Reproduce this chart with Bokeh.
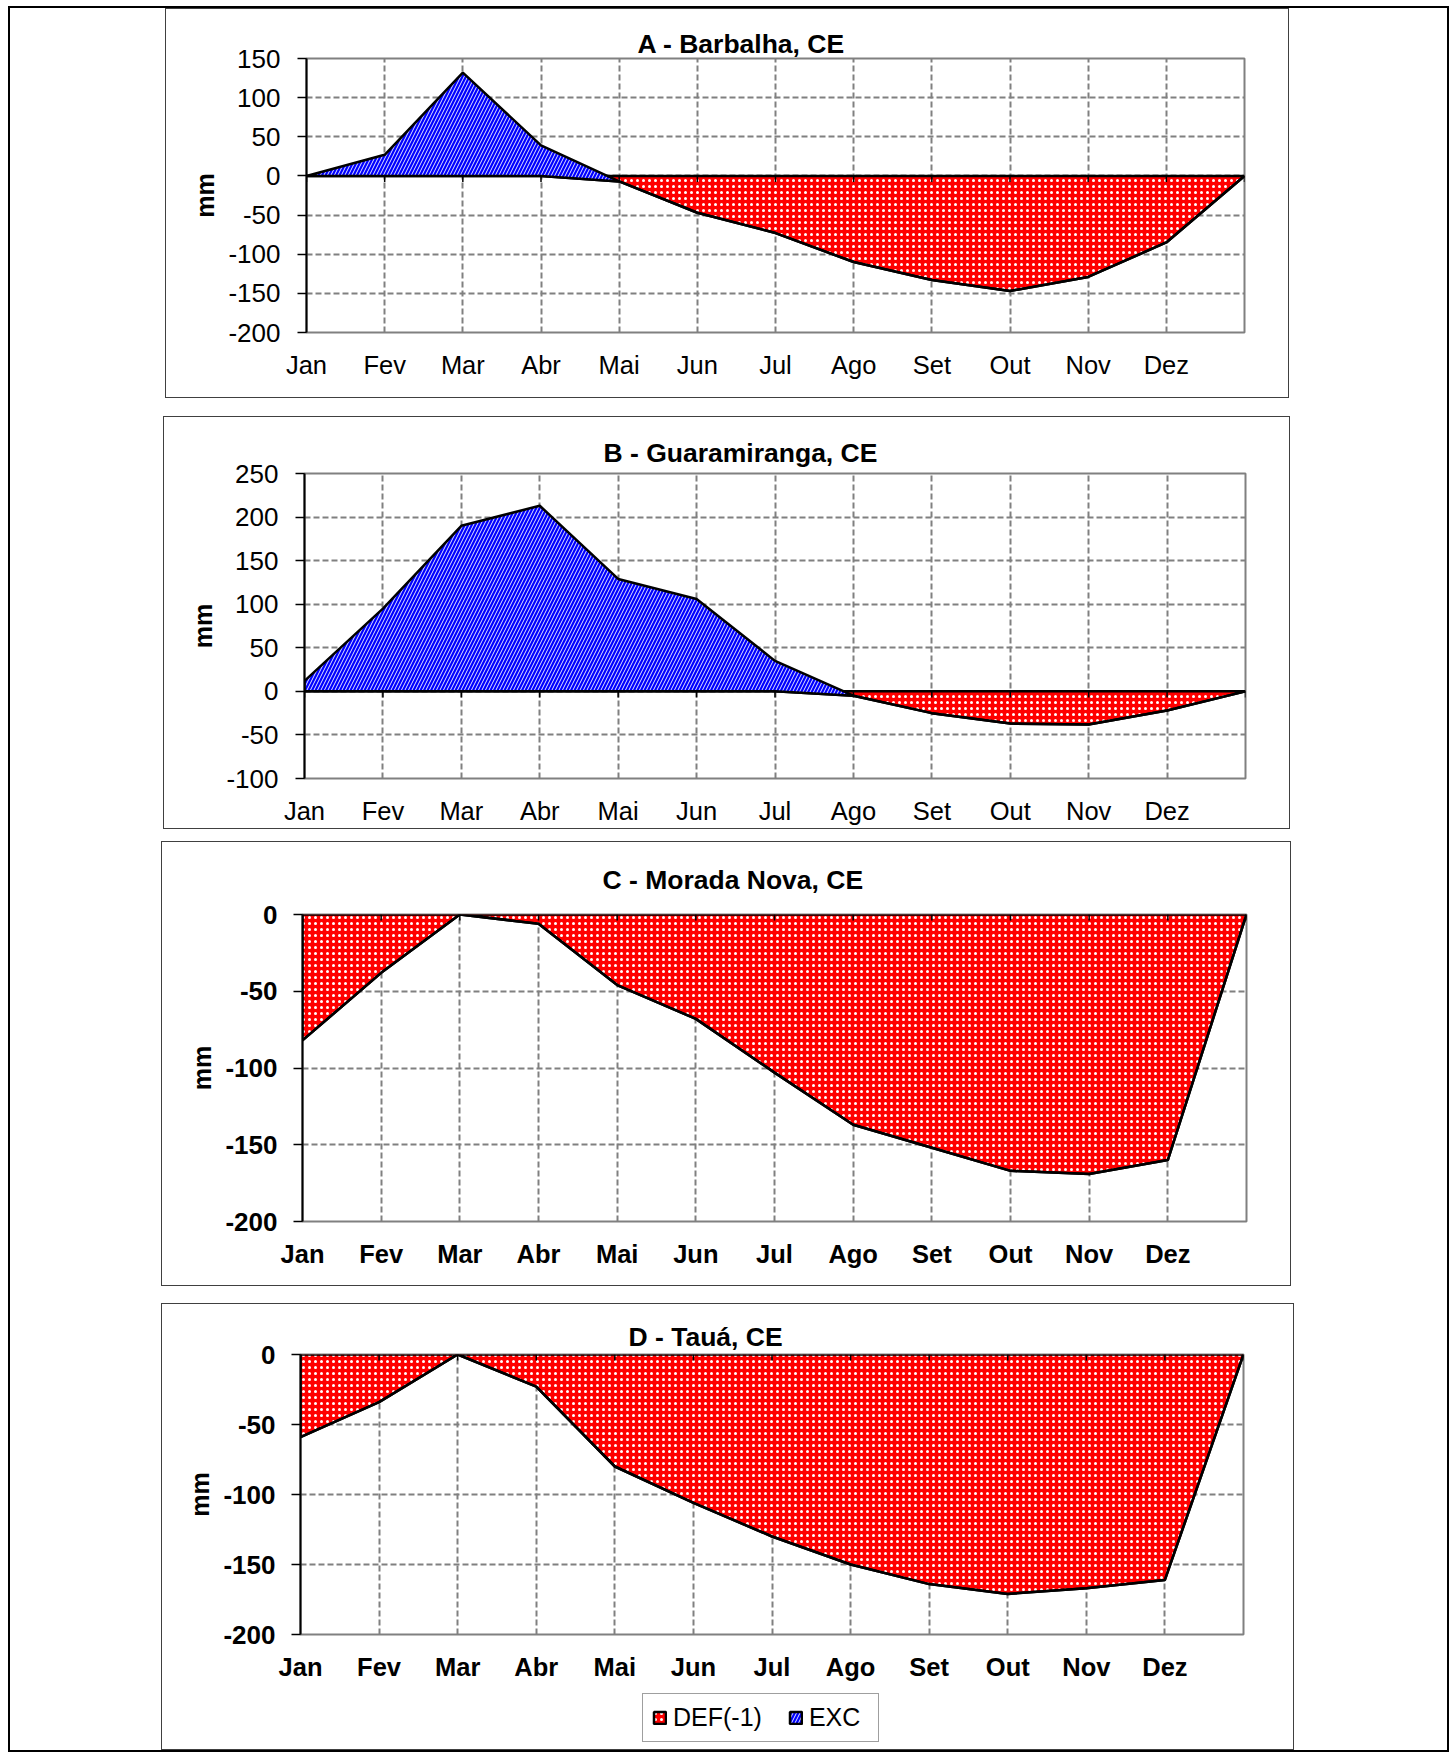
from bokeh.plotting import figure
from bokeh.models import Range1d, FixedTicker, Legend, LegendItem
from bokeh.layouts import column
from bokeh.embed import file_html
from bokeh.resources import INLINE

# ---------------- data ----------------
months = ["Jan", "Fev", "Mar", "Abr", "Mai", "Jun", "Jul", "Ago", "Set", "Out", "Nov", "Dez"]
# 13 points: the 12 months plus the closing point at the right edge
x_pos = list(range(13))

titles = ["A - Barbalha, CE", "B - Guaramiranga, CE", "C - Morada Nova, CE", "D - Tauá, CE"]

def_a = [0, 0, 0, 0, -7, -47, -73, -110, -133, -147, -129, -85, 0]
exc_a = [0, 27, 132, 39, 0, 0, 0, 0, 0, 0, 0, 0, 0]

def_b = [0, 0, 0, 0, 0, 0, 0, -5, -25, -37, -38, -22, 0]
exc_b = [12, 95, 190, 213, 129, 106, 35, 0, 0, 0, 0, 0, 0]

def_c = [-82, -38, 0, -6, -46, -68, -103, -137, -152, -167, -169, -160, 0]
exc_c = [0, 0, 0, 0, 0, 0, 0, 0, 0, 0, 0, 0, 0]

def_d = [-59, -34, 0, -23, -80, -106, -130, -150, -164, -171, -167, -161, 0]
exc_d = [0, 0, 0, 0, 0, 0, 0, 0, 0, 0, 0, 0, 0]

y_ticks_a = [-200, -150, -100, -50, 0, 50, 100, 150]
y_ticks_b = [-100, -50, 0, 50, 100, 150, 200, 250]
y_ticks_c = [-200, -150, -100, -50, 0]
y_ticks_d = [-200, -150, -100, -50, 0]

series_names = ["DEF(-1)", "EXC"]

FONT = "Liberation Sans"
GRID = "#808080"
BOX = "1px solid #404040"

DEF_STYLE = dict(fill_color="#FF0000", hatch_pattern="dot", hatch_color="white",
                 hatch_scale=6, hatch_weight=0.8, line_color="black", line_width=2.5)
EXC_STYLE = dict(fill_color="#0000FF", hatch_pattern="right_diagonal_line",
                 hatch_color="white", hatch_scale=7, hatch_weight=0.9,
                 line_color="black", line_width=2.5)


def panel(title, defv, excv, yticks, bold, W, H, mb_l, mb_r, mb_t, mb_b,
          title_off, title_standoff, label_standoff, margin=None, bordered=True,
          canvas_h=None):
    kw = {}
    if margin is not None:
        kw["margin"] = margin
    if bordered:
        kw["styles"] = {"border": BOX}
    p = figure(width=W, height=H,
               x_range=Range1d(0, 12), y_range=Range1d(yticks[0], yticks[-1]),
               output_backend="svg", toolbar_location=None,
               min_border_left=mb_l, min_border_right=mb_r,
               min_border_top=mb_t, min_border_bottom=mb_b, **kw)
    p.background_fill_color = "white"
    p.border_fill_color = "white"
    p.outline_line_color = GRID
    p.outline_line_width = 2

    p.title.text = title
    p.title.align = "left"
    p.title.offset = title_off
    p.title.text_font = FONT
    p.title.text_font_size = "26.5px"
    p.title.text_font_style = "bold"
    p.title.text_color = "black"
    p.title.standoff = title_standoff

    style = "bold" if bold else "normal"

    # grids
    p.xgrid.ticker = FixedTicker(ticks=list(range(12)))
    p.ygrid.ticker = FixedTicker(ticks=yticks)
    for g in (p.xgrid, p.ygrid):
        g.grid_line_color = GRID
        g.grid_line_dash = "6 3"
        g.grid_line_width = 2

    # x axis (labels at bottom)
    xa = p.xaxis[0]
    xa.ticker = FixedTicker(ticks=list(range(12)))
    xa.major_label_overrides = {i: m for i, m in enumerate(months)}
    xa.axis_line_color = None
    xa.major_tick_in = 0
    xa.major_tick_out = 0
    xa.minor_tick_line_color = None
    xa.major_label_standoff = 18
    xa.major_label_text_font = FONT
    xa.major_label_text_font_size = "25.5px"
    xa.major_label_text_font_style = style
    xa.major_label_text_color = "black"

    # y axis
    ya = p.yaxis[0]
    ya.ticker = FixedTicker(ticks=yticks)
    ya.major_label_overrides = {v: str(v) for v in yticks}
    ya.axis_line_color = "black"
    ya.axis_line_width = 2
    ya.major_tick_out = 9
    ya.major_tick_in = 0
    ya.major_tick_line_color = "black"
    ya.major_tick_line_width = 1.5
    ya.minor_tick_line_color = None
    ya.major_label_standoff = label_standoff
    ya.major_label_text_font = FONT
    ya.major_label_text_font_size = "26px"
    ya.major_label_text_font_style = style
    ya.major_label_text_color = "black"
    ya.axis_label = "mm"
    ya.axis_label_text_font = FONT
    ya.axis_label_text_font_size = "25px"
    ya.axis_label_text_font_style = "bold"
    ya.axis_label_text_color = "black"
    ya.axis_label_standoff = 6

    zeros = [0] * len(defv)
    top = [d + e for d, e in zip(defv, excv)]
    p.patch(x_pos + x_pos[::-1], zeros + defv[::-1], **DEF_STYLE)
    p.patch(x_pos + x_pos[::-1], top + defv[::-1], **EXC_STYLE)

    # category-axis tick marks on the zero line (6 px long, pointing down)
    ch = canvas_h if canvas_h is not None else H - 2
    frame_h = ch - mb_t - mb_b
    tick_len = (yticks[-1] - yticks[0]) / frame_h * 6
    p.segment(x0=x_pos, y0=zeros, x1=x_pos, y1=[-tick_len] * len(x_pos),
              line_color="black", line_width=1.5)
    return p


pA = panel(titles[0], def_a, exc_a, y_ticks_a, False, 1124, 390, 136, 42, 49, 67,
           331, 0, 17, margin=(0, 158, 0, 155))
pB = panel(titles[1], def_b, exc_b, y_ticks_b, False, 1127, 413, 140, 39, 56, 52,
           299, 12, 17, margin=(18, 157, 0, 153))
pC = panel(titles[2], def_c, exc_c, y_ticks_c, True, 1130, 445, 137, 46, 71, 66,
           300, 40, 16, margin=(12, 156, 0, 151))
pD = panel(titles[3], def_d, exc_d, y_ticks_d, True, 1131, 384, 138, 50, 50, 54,
           328, 6, 16, bordered=False, canvas_h=384)

# legend strip at the bottom of panel D (its patches lie outside the strip's view)
pL = figure(width=1131, height=61, x_range=Range1d(0, 12), y_range=Range1d(1, 2),
            x_axis_type=None, y_axis_type=None, output_backend="svg",
            toolbar_location=None, min_border=0)
pL.outline_line_color = None
pL.background_fill_color = "white"
pL.border_fill_color = "white"
zeros_d = [0] * len(def_d)
top_d = [d + e for d, e in zip(def_d, exc_d)]
r_def = pL.patch(x_pos + x_pos[::-1], zeros_d + def_d[::-1], **DEF_STYLE)
r_exc = pL.patch(x_pos + x_pos[::-1], top_d + def_d[::-1], **EXC_STYLE)
lg = Legend(items=[LegendItem(label=series_names[0], renderers=[r_def]),
                   LegendItem(label=series_names[1], renderers=[r_exc])],
            orientation="horizontal", location=(342, 7),
            border_line_color="#404040", border_line_width=1.5,
            background_fill_color="white", background_fill_alpha=1,
            label_text_font=FONT, label_text_font_size="25px",
            label_text_color="black",
            glyph_width=15, glyph_height=15, label_standoff=6, label_width=60,
            spacing=26, padding=9, margin=0)
pL.add_layout(lg)

colD = column(pD, pL, margin=(17, 153, 0, 151), styles={"border": BOX})

layout = column(pA, pB, pC, colD, margin=(6, 0, 0, 8),
                styles={"border": "2px solid black"})

open("out.html", "w").write(file_html(layout, INLINE))
